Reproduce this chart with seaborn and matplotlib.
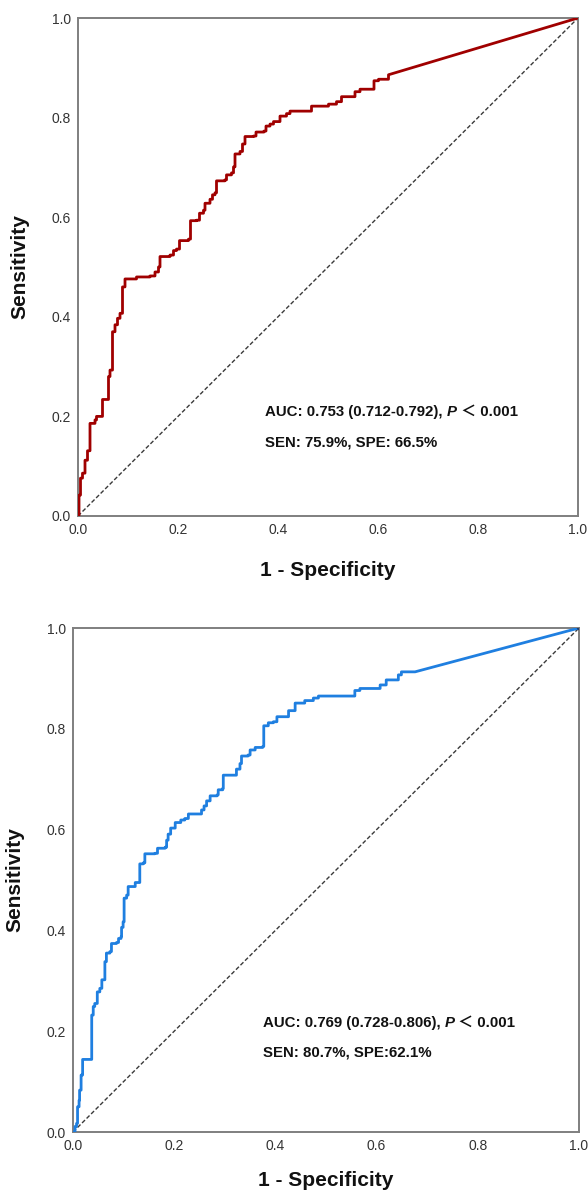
import numpy as np
import pandas as pd
import matplotlib
matplotlib.use("Agg")
import matplotlib.pyplot as plt
import seaborn as sns

# ---- data ----
red_fpr = [0.0, 0.002, 0.005, 0.009, 0.014, 0.019, 0.024, 0.034, 0.037, 0.049, 0.061, 0.064,
           0.069, 0.074, 0.079, 0.084, 0.089, 0.094, 0.117, 0.144, 0.154, 0.161, 0.164, 0.184,
           0.191, 0.197, 0.203, 0.221, 0.225, 0.237, 0.243, 0.251, 0.254, 0.264, 0.269, 0.274,
           0.277, 0.294, 0.297, 0.307, 0.311, 0.314, 0.324, 0.329, 0.334, 0.351, 0.356, 0.372,
           0.376, 0.384, 0.391, 0.404, 0.417, 0.424, 0.467, 0.501, 0.517, 0.527, 0.554, 0.564,
           0.592, 0.601, 0.621]
red_tpr = [0.0, 0.042, 0.076, 0.086, 0.112, 0.131, 0.186, 0.193, 0.200, 0.234, 0.280, 0.293,
           0.370, 0.384, 0.397, 0.407, 0.460, 0.476, 0.480, 0.482, 0.490, 0.500, 0.521, 0.524,
           0.533, 0.536, 0.553, 0.556, 0.593, 0.594, 0.608, 0.614, 0.628, 0.636, 0.645, 0.649,
           0.673, 0.675, 0.685, 0.689, 0.701, 0.727, 0.732, 0.747, 0.762, 0.763, 0.771, 0.773,
           0.783, 0.787, 0.792, 0.803, 0.808, 0.813, 0.823, 0.827, 0.832, 0.842, 0.852, 0.857,
           0.874, 0.877, 0.886]
red_tail_fpr = [1.0]
red_tail_tpr = [1.0]

blue_fpr = [0.0, 0.004, 0.007, 0.009, 0.012, 0.013, 0.016, 0.019, 0.037, 0.040, 0.043, 0.048,
            0.053, 0.057, 0.063, 0.066, 0.073, 0.076, 0.086, 0.090, 0.095, 0.096, 0.099, 0.101,
            0.106, 0.109, 0.123, 0.132, 0.139, 0.142, 0.162, 0.167, 0.182, 0.185, 0.188, 0.193,
            0.202, 0.213, 0.221, 0.228, 0.254, 0.259, 0.264, 0.271, 0.285, 0.287, 0.296, 0.297,
            0.323, 0.330, 0.333, 0.346, 0.350, 0.360, 0.375, 0.377, 0.386, 0.396, 0.403, 0.426,
            0.439, 0.458, 0.475, 0.485, 0.557, 0.567, 0.607, 0.619, 0.643, 0.649]
blue_tpr = [0.0, 0.011, 0.017, 0.050, 0.063, 0.083, 0.113, 0.144, 0.232, 0.249, 0.255, 0.278,
            0.285, 0.302, 0.338, 0.355, 0.358, 0.374, 0.376, 0.384, 0.388, 0.406, 0.417, 0.464,
            0.470, 0.487, 0.495, 0.532, 0.534, 0.552, 0.553, 0.563, 0.565, 0.579, 0.591, 0.603,
            0.614, 0.619, 0.622, 0.631, 0.639, 0.647, 0.657, 0.667, 0.669, 0.679, 0.682, 0.708,
            0.720, 0.731, 0.746, 0.748, 0.758, 0.763, 0.765, 0.806, 0.812, 0.814, 0.824, 0.836,
            0.851, 0.856, 0.861, 0.865, 0.876, 0.880, 0.887, 0.897, 0.907, 0.913]
blue_tail_fpr = [0.676, 1.0]
blue_tail_tpr = [0.913, 1.0]

tick_vals = [0.0, 0.2, 0.4, 0.6, 0.8, 1.0]
tick_labels = ["0.0", "0.2", "0.4", "0.6", "0.8", "1.0"]

red_text1 = "AUC: 0.753 (0.712-0.792), "
red_text2 = "SEN: 75.9%, SPE: 66.5%"
blue_text1 = "AUC: 0.769 (0.728-0.806), "
blue_text2 = "SEN: 80.7%, SPE:62.1%"
p_text = "P"
p_rest = " \uff1c 0.001"

# ---- style ----
sns.set_theme(style="white")
plt.rcParams["font.family"] = ["Liberation Sans", "Noto Sans CJK SC", "DejaVu Sans"]

W, H = 588, 1193
fig = plt.figure(figsize=(W / 100, H / 100), dpi=100)
ax1 = fig.add_axes([78 / W, 1 - 516 / H, 500 / W, 498 / H])
ax2 = fig.add_axes([73 / W, 1 - 1132 / H, 506 / W, 504 / H])


def expand_steps(xs, ys, tx, ty):
    vx, vy = [xs[0]], [ys[0]]
    for i in range(1, len(xs)):
        vx += [xs[i], xs[i]]
        vy += [ys[i - 1], ys[i]]
    vx += list(tx)
    vy += list(ty)
    return pd.DataFrame({"fpr": vx, "tpr": vy})


def panel(ax, xs, ys, tx, ty, color, t1, t2, tx0, ty1, ty2, xpad, enddot=False):
    sns.lineplot(x=[0, 1], y=[0, 1], ax=ax, color="#3a3a3a", linewidth=1.0,
                 linestyle=(0, (3.0, 1.6)), zorder=2)
    df = expand_steps(xs, ys, tx, ty)
    sns.lineplot(data=df, x="fpr", y="tpr", sort=False, estimator=None, ax=ax,
                 color=color, linewidth=2.0, zorder=3)
    if enddot:
        sns.scatterplot(x=[tx[-1]], y=[ty[-1]], ax=ax, color="#1c3f78", s=10,
                        edgecolor="none", zorder=4)
    ax.set_xlim(0, 1)
    ax.set_ylim(0, 1)
    ax.set_xticks(tick_vals)
    ax.set_xticklabels(tick_labels)
    ax.set_yticks(tick_vals)
    ax.set_yticklabels(tick_labels)
    ax.tick_params(axis="both", length=0, labelsize=10, colors="#333333", pad=5)
    for s in ax.spines.values():
        s.set_visible(True)
        s.set_color("#7f7f7f")
        s.set_linewidth(1.4)
    ax.set_xlabel("1 - Specificity", fontsize=15, fontweight="bold", labelpad=xpad,
                  color="#111111")
    ax.set_ylabel("Sensitivity", fontsize=15, fontweight="bold", labelpad=16,
                  color="#111111")
    fs = 10.8
    a = ax.text(tx0, ty1, t1, fontsize=fs, fontweight="bold", va="bottom", ha="left",
                color="#111111")
    b = ax.annotate(p_text, xy=(1, 0), xycoords=a, va="bottom", ha="left",
                    fontsize=fs, fontweight="bold", style="italic", color="#111111")
    ax.annotate(p_rest, xy=(1, 0), xycoords=b, va="bottom", ha="left",
                fontsize=fs, fontweight="bold", color="#111111")
    ax.text(tx0, ty2, t2, fontsize=fs, fontweight="bold", va="bottom", ha="left",
            color="#111111")


panel(ax1, red_fpr, red_tpr, red_tail_fpr, red_tail_tpr, "#a00000",
      red_text1, red_text2, 0.374, 0.195, 0.134, 17)
panel(ax2, blue_fpr, blue_tpr, blue_tail_fpr, blue_tail_tpr, "#1f7fe0",
      blue_text1, blue_text2, 0.375, 0.203, 0.143, 13, enddot=True)

fig.savefig("out.png", dpi=100)
